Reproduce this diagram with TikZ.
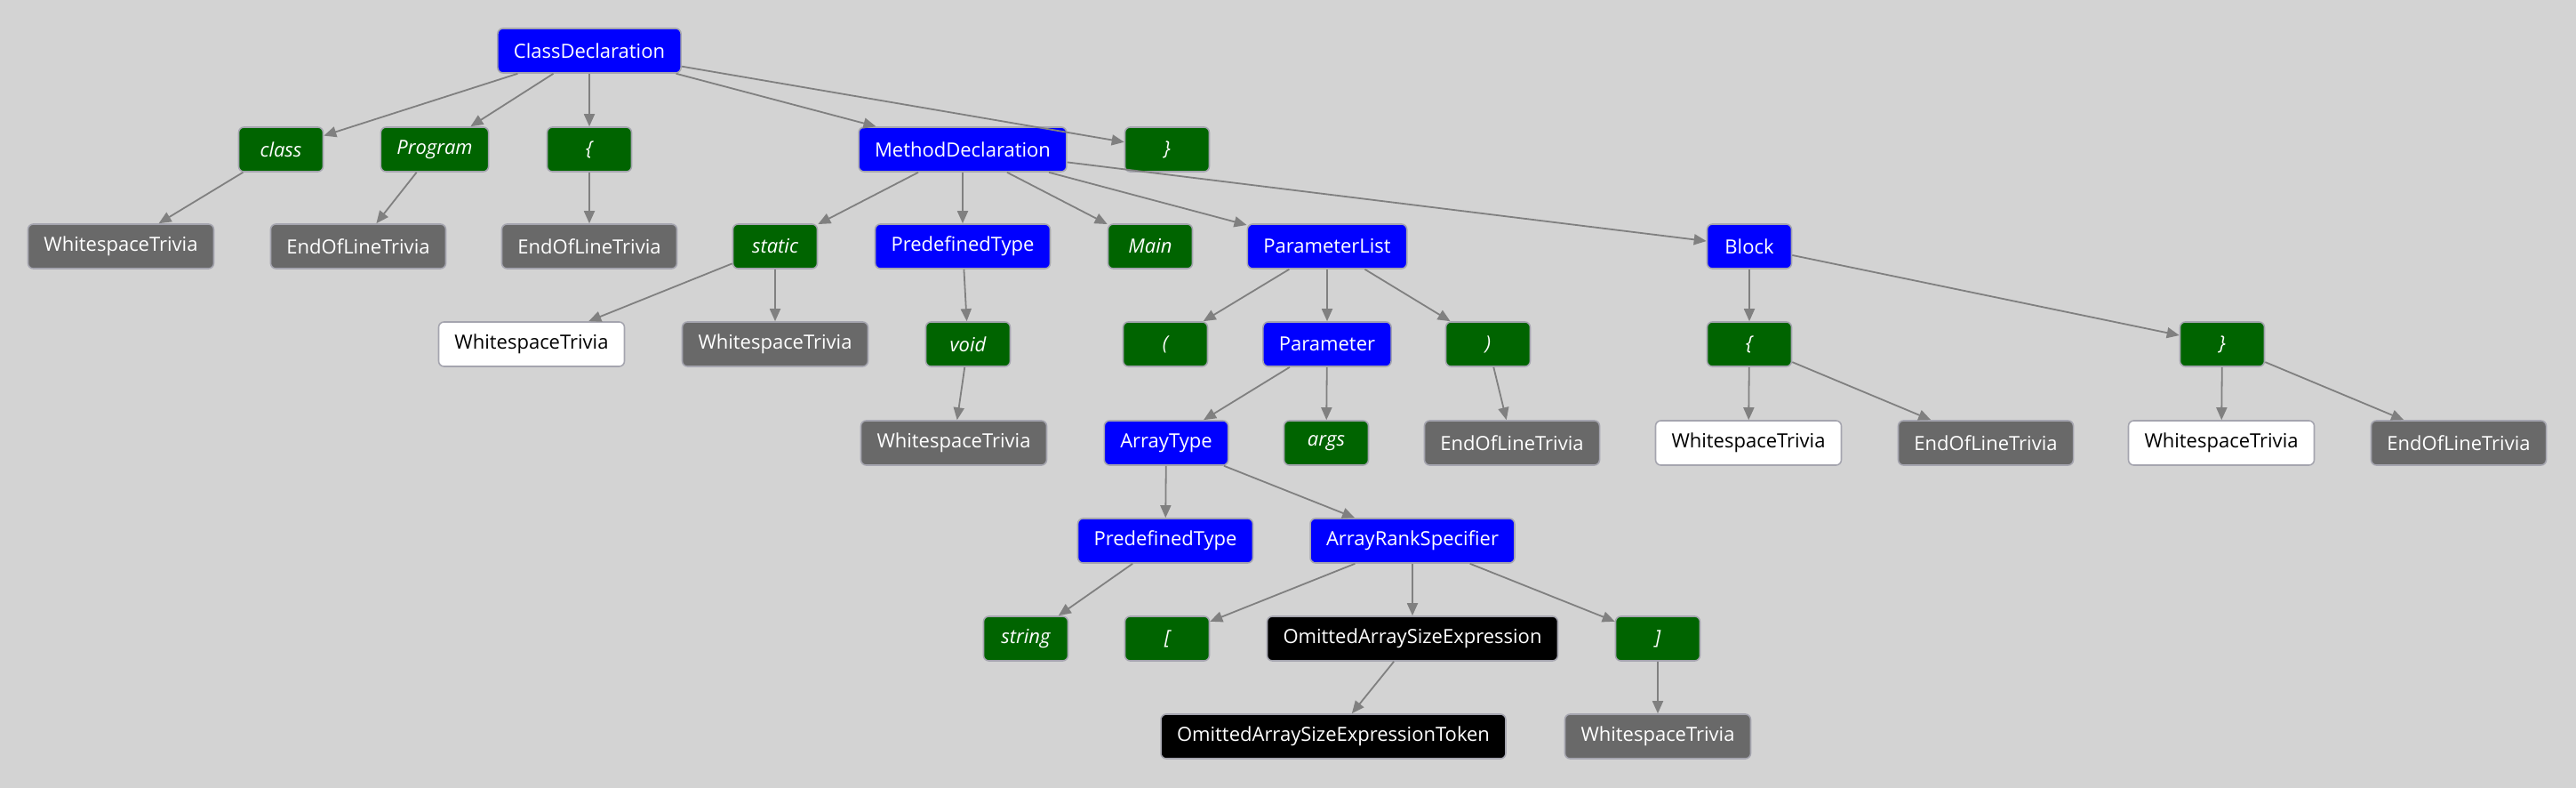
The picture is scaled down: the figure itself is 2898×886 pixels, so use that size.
\documentclass[tikz,border=0pt]{standalone}
\usepackage{fontspec}
\setmainfont{Open Sans}
\usetikzlibrary{arrows.meta}

\definecolor{bgcol}{RGB}{211,211,211}
\definecolor{nodecol}{RGB}{0,0,255}
\definecolor{tokencol}{RGB}{0,100,0}
\definecolor{triviacol}{RGB}{105,105,105}
\definecolor{edgecol}{RGB}{128,128,128}
\definecolor{rimcol}{RGB}{165,165,175}

\tikzset{
	box/.style={rounded corners=3pt, draw=rimcol, line width=0.8pt,
		minimum height=25pt, minimum width=47.5pt, inner xsep=9pt,
		font=\fontsize{11}{13}\selectfont, text=white},
	syntaxnode/.style={box, fill=nodecol},
	tokennode/.style={box, fill=tokencol, font=\fontsize{11}{13}\selectfont\itshape},
	trivianode/.style={box, fill=triviacol},
	leadnode/.style={box, fill=white, text=black},
	missingnode/.style={box, fill=black},
	edge/.style={draw=edgecol, line width=0.9pt, -{Triangle[length=7pt, width=6pt]}}
}

\begin{document}
\begin{tikzpicture}[x=0.5pt, y=-0.5pt]
		\fill[bgcol] (0, 0) rectangle (2898, 886);
		\useasboundingbox (0, 0) rectangle (2898, 886);

		% level 0
		\node[syntaxnode] (cd) at (663, 57) {ClassDeclaration};

		% level 1
		\node[tokennode] (kclass) at (316, 168) {class};
		\node[tokennode] (ident) at (489, 168) {Program};
		\node[tokennode] (obrace) at (663, 168) {\{};
		\node[syntaxnode] (md) at (1083, 168) {MethodDeclaration};
		\node[tokennode] (cbrace) at (1313, 168) {\}};

		% level 2
		\node[trivianode] (ws1) at (136, 277) {WhitespaceTrivia};
		\node[trivianode] (eol1) at (403, 277) {EndOfLineTrivia};
		\node[trivianode] (eol2) at (663, 277) {EndOfLineTrivia};
		\node[tokennode] (kstatic) at (872, 277) {static};
		\node[syntaxnode] (ptype) at (1083, 277) {PredefinedType};
		\node[tokennode] (kmain) at (1294, 277) {Main};
		\node[syntaxnode] (plist) at (1493, 277) {ParameterList};
		\node[syntaxnode] (block) at (1968, 277) {Block};

		% level 3
		\node[leadnode] (ws2) at (598, 387) {WhitespaceTrivia};
		\node[trivianode] (ws3) at (872, 387) {WhitespaceTrivia};
		\node[tokennode] (kvoid) at (1089, 387) {void};
		\node[tokennode] (oparen) at (1311, 387) {(};
		\node[syntaxnode] (param) at (1493, 387) {Parameter};
		\node[tokennode] (cparen) at (1674, 387) {)};
		\node[tokennode] (bopen) at (1968, 387) {\{};
		\node[tokennode] (bclose) at (2500, 387) {\}};

		% level 4
		\node[trivianode] (ws4) at (1073, 498) {WhitespaceTrivia};
		\node[syntaxnode] (atype) at (1312, 498) {ArrayType};
		\node[tokennode] (kargs) at (1492, 498) {args};
		\node[trivianode] (eol3) at (1701, 498) {EndOfLineTrivia};
		\node[leadnode] (ws5) at (1967, 498) {WhitespaceTrivia};
		\node[trivianode] (eol4) at (2234, 498) {EndOfLineTrivia};
		\node[leadnode] (ws6) at (2499, 498) {WhitespaceTrivia};
		\node[trivianode] (eol5) at (2766, 498) {EndOfLineTrivia};

		% level 5
		\node[syntaxnode] (ptype2) at (1311, 608) {PredefinedType};
		\node[syntaxnode] (arank) at (1589, 608) {ArrayRankSpecifier};

		% level 6
		\node[tokennode] (kstring) at (1154, 718) {string};
		\node[tokennode] (obrack) at (1313, 718) {[};
		\node[missingnode] (omit) at (1589, 718) {OmittedArraySizeExpression};
		\node[tokennode] (cbrack) at (1865, 718) {]};

		% level 7
		\node[missingnode] (omittok) at (1500, 828) {OmittedArraySizeExpressionToken};
		\node[trivianode] (ws7) at (1865, 828) {WhitespaceTrivia};

		\foreach \a/\b in {cd/kclass, cd/ident, cd/obrace, cd/md, cd/cbrace,
				kclass/ws1, ident/eol1, obrace/eol2,
				md/kstatic, md/ptype, md/kmain, md/plist, md/block,
				kstatic/ws2, kstatic/ws3, ptype/kvoid, kvoid/ws4,
				plist/oparen, plist/param, plist/cparen, cparen/eol3,
				param/atype, param/kargs,
				block/bopen, block/bclose, bopen/ws5, bopen/eol4, bclose/ws6, bclose/eol5,
				atype/ptype2, atype/arank, ptype2/kstring,
				arank/obrack, arank/omit, arank/cbrack,
				omit/omittok, cbrack/ws7}{
				\draw[edge] (\a) -- (\b);
			}
	\end{tikzpicture}
\end{document}
